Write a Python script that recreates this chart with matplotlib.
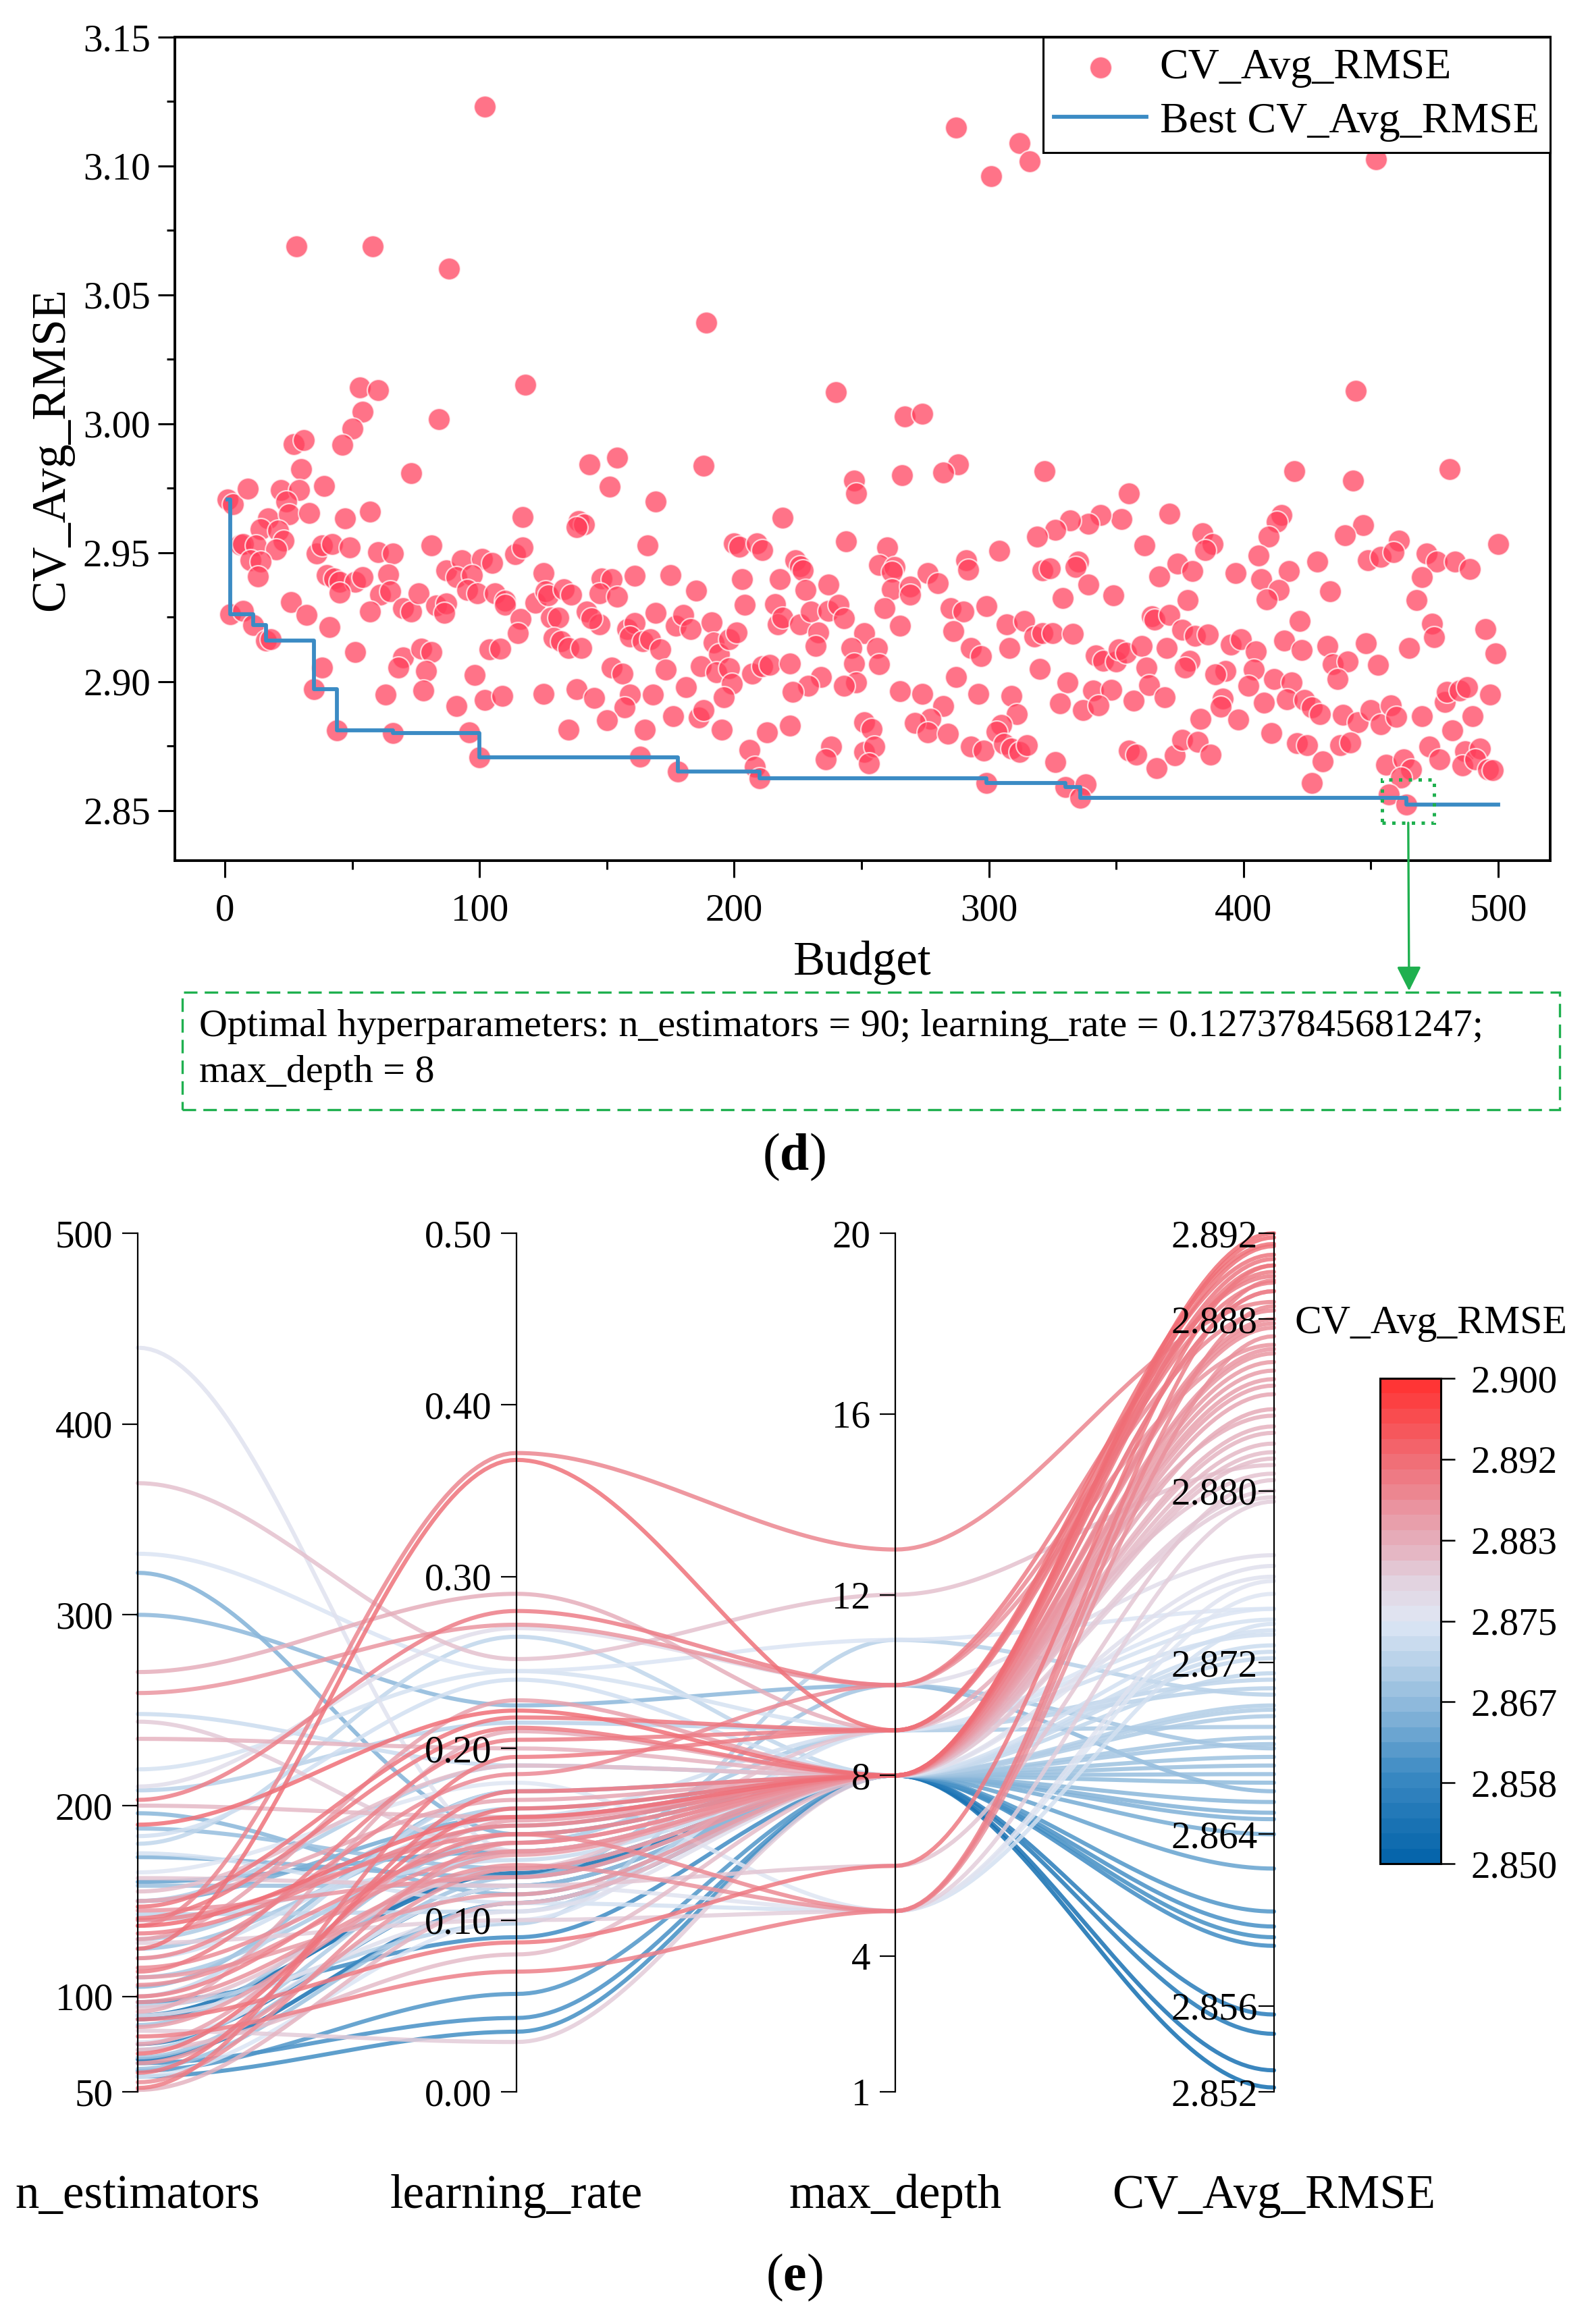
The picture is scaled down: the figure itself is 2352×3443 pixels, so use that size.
import numpy as np
import matplotlib
matplotlib.use('Agg')
import matplotlib.pyplot as plt
from matplotlib.patches import Rectangle
from matplotlib.colors import LinearSegmentedColormap, ListedColormap, Normalize
from matplotlib.cm import ScalarMappable
from matplotlib.ticker import FormatStrFormatter

plt.rcParams['font.family'] = 'Liberation Serif'
plt.rcParams['mathtext.fontset'] = 'custom'
plt.rcParams['mathtext.rm'] = 'Liberation Serif'
plt.rcParams['mathtext.bf'] = 'Liberation Serif:bold'

# ---------------- (d) optimisation history: budget vs CV_Avg_RMSE ----------------
# split in four budget ranges
budget_a = [28, 58, 88, 102, 53, 60, 54, 50, 46, 27, 31, 30, 84, 73, 118,
            1, 3, 9, 22, 29, 39, 24, 17, 25, 33, 47, 57, 117, 14, 21, 6, 7, 12, 23, 20,
            10, 14, 13, 36, 38, 42, 49, 60, 66, 81, 87, 93, 101, 105, 114, 117, 125, 40,
            43, 45, 51, 54, 45, 64, 61, 65, 91, 97, 95, 99, 106, 110, 110, 116, 115, 122,
            126, 26, 32, 41, 57, 70, 73, 76, 83, 87, 86, 2, 7, 11, 16, 18, 51, 70,
            68, 77, 81, 79, 104, 108, 98, 38, 35, 63, 78, 91, 102, 109, 125, 44, 66, 96, 100]
rmse_a = [3.0688, 3.0688, 3.0603, 3.1230, 3.0142, 3.0130, 3.0047, 2.9980, 2.9919, 2.9920,
          2.9937, 2.9825, 3.0018, 2.9808, 3.0152,
          2.9705, 2.9689, 2.9749, 2.9744, 2.9744, 2.9759, 2.9699, 2.9634, 2.9648, 2.9654,
          2.9634, 2.9660, 2.9637, 2.9590, 2.9585, 2.9530, 2.9532, 2.9527, 2.9546, 2.9511,
          2.9470, 2.9466, 2.9408, 2.9497, 2.9527, 2.9532, 2.9519, 2.9501, 2.9497, 2.9527,
          2.9432, 2.9470, 2.9476, 2.9461, 2.9494, 2.9519, 2.9421, 2.9413, 2.9400, 2.9386,
          2.9386, 2.9406, 2.9345, 2.9416, 2.9337, 2.9351, 2.9404, 2.9413, 2.9355, 2.9341,
          2.9341, 2.9314, 2.9297, 2.9243, 2.9187, 2.9306, 2.9350, 2.9307, 2.9258, 2.9210,
          2.9271, 2.9284, 2.9271, 2.9341, 2.9294, 2.9302, 2.9266, 2.9262, 2.9275, 2.9219,
          2.9160, 2.9165, 2.9115, 2.9093, 2.9053, 2.9128, 2.9115, 2.9042, 2.9124, 2.9128,
          2.9026, 2.9055, 2.8971, 2.8950, 2.8964, 2.8906, 2.8927, 2.8945, 2.8951, 2.8810,
          2.8799, 2.8802, 2.8706]

budget_b = [143, 154, 151, 189, 188, 169, 219, 240, 247, 248,
            139, 141, 138, 166, 200, 202, 209, 211, 244, 127, 133, 136, 148, 152, 147,
            154, 161, 175, 185, 203, 218, 224, 226, 227, 228, 237, 204, 216, 128, 131,
            142, 147, 144, 129, 132, 135, 140, 158, 161, 159, 164, 167, 171, 169, 177,
            180, 183, 191, 192, 194, 198, 201, 217, 219, 226, 230, 233, 232, 237, 241,
            243, 251, 246, 247, 248, 243, 152, 156, 173, 187, 193, 198, 199, 207, 211,
            214, 222, 234, 229, 223, 138, 145, 159, 157, 168, 181, 196, 135, 150, 165,
            176, 186, 188, 195, 213, 222, 206, 238, 236, 251, 251, 163, 178, 208, 210]
rmse_b = [2.9843, 2.9869, 2.9756, 3.0393, 2.9837, 2.9698, 2.9636, 3.0123, 2.9780, 2.9730,
          2.9621, 2.9608, 2.9598, 2.9527, 2.9536, 2.9523, 2.9536, 2.9510, 2.9545, 2.9333,
          2.9359, 2.9337, 2.9400, 2.9396, 2.9342, 2.9329, 2.9411, 2.9414, 2.9352, 2.9396,
          2.9396, 2.9470, 2.9448, 2.9430, 2.9355, 2.9377, 2.9297, 2.9299, 2.9249, 2.9249,
          2.9271, 2.9222, 2.9245, 2.9169, 2.9156, 2.9129, 2.9131, 2.9204, 2.9226, 2.9174,
          2.9156, 2.9165, 2.9125, 2.9266, 2.9217, 2.9258, 2.9204, 2.9230, 2.9151, 2.9107,
          2.9165, 2.9191, 2.9222, 2.9249, 2.9222, 2.9271, 2.9191, 2.9138, 2.9275, 2.9297,
          2.9245, 2.9187, 2.9129, 2.9071, 2.8996, 2.8983, 2.9054, 2.9031, 2.9047, 2.9058,
          2.9036, 2.9051, 2.8992, 2.9031, 2.9060, 2.9065, 2.9071, 2.9018, 2.8983, 2.8959,
          2.8970, 2.8935, 2.8948, 2.8899, 2.8948, 2.8977, 2.8939, 2.8814, 2.8850, 2.8814,
          2.8865, 2.8859, 2.8890, 2.8814, 2.8802, 2.8830, 2.8735, 2.8748, 2.8699, 2.8841,
          2.8726, 2.8708, 2.8651, 2.8668, 2.8624]

budget_c = [287, 312, 316, 301, 267, 274, 322, 288, 282, 266, 355,
            371, 352, 344, 339, 332, 326, 319, 304, 361, 260, 257, 263, 262, 276, 280,
            262, 269, 269, 291, 292, 321, 324, 335, 334, 339, 349, 367, 374, 329, 259,
            265, 285, 290, 299, 286, 307, 314, 318, 321, 325, 333, 364, 365, 371, 376,
            256, 257, 293, 297, 308, 320, 342, 345, 350, 351, 354, 360, 370, 362, 287,
            296, 265, 274, 309, 331, 328, 341, 348, 337, 343, 357, 363, 369, 282, 277,
            271, 276, 284, 254, 255, 253, 311, 305, 303, 293, 298, 306, 309, 312, 315,
            326, 355, 358, 366, 373, 299, 330, 338, 336]
rmse_c = [3.1150, 3.1088, 3.1018, 3.0960, 3.0027, 3.0038, 2.9817, 2.9843, 2.9810, 2.9800,
          2.9730, 2.9652, 2.9630, 2.9647, 2.9612, 2.9625, 2.9588, 2.9561, 2.9507, 2.9528,
          2.9519, 2.9452, 2.9443, 2.9426, 2.9421, 2.9381, 2.9359, 2.9368, 2.9337, 2.9470,
          2.9435, 2.9432, 2.9439, 2.9465, 2.9443, 2.9377, 2.9333, 2.9408, 2.9456, 2.9324,
          2.9284, 2.9217, 2.9284, 2.9271, 2.9293, 2.9196, 2.9222, 2.9236, 2.9174, 2.9187,
          2.9187, 2.9184, 2.9253, 2.9239, 2.9257, 2.9200, 2.9129, 2.9067, 2.9129, 2.9098,
          2.9129, 2.9049, 2.9102, 2.9080, 2.9077, 2.9124, 2.9111, 2.9138, 2.9129, 2.9054,
          2.9018, 2.8952, 2.8963, 2.8952, 2.8943, 2.8996, 2.8915, 2.8965, 2.8968, 2.8890,
          2.8907, 2.8925, 2.8987, 2.8938, 2.8906, 2.8855, 2.8838, 2.8802, 2.8797, 2.8815,
          2.8748, 2.8682, 2.8874, 2.8832, 2.8806, 2.8748, 2.8731, 2.8757, 2.8739, 2.8726,
          2.8753, 2.8688, 2.8731, 2.8717, 2.8664, 2.8713, 2.8606, 2.8590, 2.8602, 2.8549]

budget_d = [452, 444, 481, 420, 443,
            415, 413, 410, 384, 388, 385, 406, 447, 440, 461, 500, 380, 397, 407, 418,
            429, 449, 454, 459, 472, 476, 483, 489, 470, 414, 409, 434, 378, 468, 381,
            386, 395, 399, 405, 422, 416, 423, 433, 448, 465, 474, 475, 495, 499, 379,
            377, 393, 389, 404, 402, 412, 419, 435, 441, 437, 453, 392, 391, 383, 398,
            408, 417, 424, 427, 430, 439, 445, 450, 454, 458, 460, 470, 479, 480, 485,
            488, 497, 490, 482, 411, 376, 382, 387, 421, 425, 431, 438, 442, 427, 473,
            477, 487, 493, 486, 491, 496, 498, 456, 463, 466, 462, 457, 464]
rmse_d = [3.1025, 3.0127, 2.9825, 2.9817, 2.9780,
          2.9647, 2.9620, 2.9562, 2.9575, 2.9534, 2.9510, 2.9490, 2.9607, 2.9567, 2.9547,
          2.9532, 2.9428, 2.9421, 2.9396, 2.9428, 2.9466, 2.9470, 2.9483, 2.9501, 2.9497,
          2.9466, 2.9466, 2.9437, 2.9405, 2.9355, 2.9319, 2.9350, 2.9315, 2.9317, 2.9176,
          2.9182, 2.9143, 2.9165, 2.9116, 2.9234, 2.9160, 2.9122, 2.9138, 2.9149, 2.9129,
          2.9225, 2.9172, 2.9202, 2.9110, 2.9080, 2.9054, 2.9041, 2.9027, 2.9047, 2.8983,
          2.9009, 2.8996, 2.9067, 2.9078, 2.9009, 2.9065, 2.8934, 2.8903, 2.8854, 2.8852,
          2.8918, 2.8930, 2.8928, 2.8899, 2.8872, 2.8870, 2.8841, 2.8888, 2.8835, 2.8908,
          2.8863, 2.8865, 2.8921, 2.8961, 2.8965, 2.8978, 2.8948, 2.8865, 2.8810, 2.8801,
          2.8775, 2.8766, 2.8717, 2.8761, 2.8752, 2.8690, 2.8752, 2.8764, 2.8606, 2.8748,
          2.8697, 2.8729, 2.8739, 2.8673, 2.8699, 2.8659, 2.8655, 2.8677, 2.8699, 2.8659,
          2.8626, 2.8562, 2.8522]

best_budget = 464
best_rmse = 2.8522
optimum_text = ["Optimal hyperparameters: n_estimators = 90; learning_rate = 0.12737845681247;",
                "max_depth = 8"]

# ---------------- (e) parallel coordinates of the best trials ----------------
pc_n_estimators = [137, 125, 203, 259, 190, 147, 141, 113, 137, 133, 140, 115, 106, 97, 88,
                   79, 70, 60, 52, 145, 110, 120, 130, 100, 84, 75, 150, 92, 65, 55,
                   369, 270, 235, 200, 244, 162, 82, 94, 51, 155, 128, 72,
                   440, 332, 210, 219, 184, 248, 165, 90, 120, 140, 76, 100, 58, 175,
                   300, 180, 208, 150, 130, 110, 85, 68, 62, 158, 95, 188, 105, 143, 72, 125,
                   322, 196, 173, 160, 61, 65, 58, 97, 88, 75, 90, 67, 150]
pc_learning_rate = [0.372, 0.368, 0.280, 0.272, 0.222, 0.218, 0.212, 0.205, 0.160, 0.155,
                    0.150, 0.145, 0.140, 0.132, 0.087, 0.070, 0.165, 0.175, 0.195, 0.125,
                    0.115, 0.185, 0.228, 0.150, 0.138, 0.158, 0.170, 0.210, 0.130, 0.145,
                    0.252, 0.290, 0.200, 0.160, 0.140, 0.120, 0.029, 0.130, 0.110, 0.190,
                    0.100, 0.080,
                    0.140, 0.245, 0.270, 0.245, 0.240, 0.190, 0.180, 0.105, 0.160, 0.135,
                    0.120, 0.175, 0.100, 0.110,
                    0.225, 0.265, 0.215, 0.190, 0.165, 0.145, 0.150, 0.125, 0.110, 0.120,
                    0.098, 0.130, 0.175, 0.105, 0.140, 0.155,
                    0.150, 0.115, 0.125, 0.140, 0.057, 0.043, 0.035, 0.090, 0.130, 0.120,
                    0.1274, 0.110, 0.160]
pc_max_depth = [13, 9, 10, 10, 8, 9, 8, 9, 8, 8, 5, 8, 8, 5, 6, 5, 8, 8, 9, 8, 8, 10, 8, 8,
                8, 8, 8, 8, 8, 8,
                12, 9, 8, 8, 8, 6, 8, 9, 8, 8, 5, 8,
                8, 11, 10, 9, 8, 8, 5, 8, 9, 8, 5, 8, 9, 5,
                10, 8, 9, 8, 8, 9, 8, 10, 8, 8, 11, 8, 8, 9, 8, 8,
                8, 8, 8, 8, 8, 8, 8, 8, 8, 8, 8, 8, 8]
pc_cv_rmse = [2.8888, 2.8915, 2.8900, 2.8868, 2.8918, 2.8910, 2.8905, 2.8897, 2.8920, 2.8893,
              2.8886, 2.8880, 2.8876, 2.8872, 2.8905, 2.8898, 2.8914, 2.8908, 2.8902, 2.8866,
              2.8860, 2.8884, 2.8852, 2.8893, 2.8856, 2.8849, 2.8845, 2.8838, 2.8864, 2.8878,
              2.8812, 2.8835, 2.8830, 2.8822, 2.8800, 2.8805, 2.8797, 2.8808, 2.8827, 2.8815,
              2.8795, 2.8818,
              2.8760, 2.8745, 2.8770, 2.8740, 2.8735, 2.8728, 2.8752, 2.8765, 2.8733, 2.8725,
              2.8758, 2.8722, 2.8745, 2.8738,
              2.8660, 2.8715, 2.8708, 2.8700, 2.8695, 2.8690, 2.8685, 2.8680, 2.8676, 2.8672,
              2.8705, 2.8668, 2.8664, 2.8712, 2.8698, 2.8682,
              2.8650, 2.8655, 2.8647, 2.8624, 2.8604, 2.8597, 2.8592, 2.8588, 2.8556, 2.8547,
              2.8522, 2.8530, 2.8640]
pc_names = ['n_estimators', 'learning_rate', 'max_depth', 'CV_Avg_RMSE']
pc_limits = [(50, 500), (0.0, 0.5), (1, 20), (2.852, 2.892)]
pc_ticks = [[50, 100, 200, 300, 400, 500],
            [0.0, 0.1, 0.2, 0.3, 0.4, 0.5],
            [1, 4, 8, 12, 16, 20],
            [2.852, 2.856, 2.864, 2.872, 2.880, 2.888, 2.892]]
pc_formats = ['%d', '%.2f', '%d', '%.3f']
cbar_range = (2.850, 2.900)

# ---------------- figure ----------------
W, H = 2352, 3443
fig = plt.figure(figsize=(W / 100, H / 100), dpi=100)

def fx(px):
    return px / W

def fy(py):
    return 1 - py / H

red = '#ff3d5a'
blue_line = '#3b8bc4'
green = '#1fb04f'

budget = np.array(budget_a + budget_b + budget_c + budget_d, dtype=float)
rmse = np.array(rmse_a + rmse_b + rmse_c + rmse_d)
order = np.argsort(budget, kind='stable')
xb = budget[order]
yb = np.minimum.accumulate(rmse[order])

ax = fig.add_axes([fx(259), fy(1275), fx(2296) - fx(259), fy(55) - fy(1275)])
ax.scatter(budget, rmse, s=560, c=red, alpha=0.72, edgecolors='white', linewidths=1.6,
           label='CV_Avg_RMSE', zorder=2)
ax.plot(xb, yb, drawstyle='steps-post', color=blue_line, lw=4.2,
        label='Best CV_Avg_RMSE', zorder=3)

ax.set_xlim(-19.7, 520.5)
ax.set_ylim(2.8305, 3.15)
ax.set_xticks(np.arange(0, 501, 100))
ax.set_xticks(np.arange(50, 501, 100), minor=True)
ax.set_yticks(np.arange(2.85, 3.151, 0.05))
ax.set_yticks(np.arange(2.875, 3.14, 0.05), minor=True)
ax.yaxis.set_major_formatter(FormatStrFormatter('%.2f'))
ax.tick_params(which='major', direction='out', length=18, width=2.2, labelsize=41, pad=8)
ax.tick_params(axis='x', which='major', pad=17)
ax.tick_params(which='minor', direction='out', length=9, width=2.2)
for sp in ax.spines.values():
    sp.set_linewidth(2.8)
ax.set_xlabel('Budget', fontsize=51, labelpad=13)
ax.set_ylabel('CV_Avg_RMSE', fontsize=51, labelpad=10)

leg = ax.legend(loc='upper right', fontsize=46, frameon=True, fancybox=False,
                edgecolor='black', framealpha=1, borderaxespad=0, borderpad=0.26,
                handlelength=2.15, handletextpad=0.3, labelspacing=0.32)
leg.get_frame().set_linewidth(2.2)

# optimum marker box and arrow to the text box
box_w, box_h = 20.5, 0.0166
ax.add_patch(Rectangle((best_budget - 9.5, best_rmse - 0.007), box_w, box_h, fill=False,
                       edgecolor=green, lw=3.6, linestyle=(0, (1, 1.9)), zorder=4))
ax.annotate('', xy=(fx(2087), fy(1468)), xycoords='figure fraction',
            xytext=(best_budget + 0.75, best_rmse - 0.007), textcoords='data',
            arrowprops=dict(arrowstyle='-|>', color=green, lw=2.4, mutation_scale=55,
                            shrinkA=0, shrinkB=0),
            annotation_clip=False)

fig.add_artist(Rectangle((fx(270), fy(1644)), fx(2310) - fx(270), fy(1470) - fy(1644),
                         transform=fig.transFigure, fill=False, edgecolor=green, lw=2.4,
                         linestyle=(0, (6, 3.2))))
fig.text(fx(295), fy(1521), optimum_text[0], fontsize=41.8, va='center', ha='left')
fig.text(fx(295), fy(1589), optimum_text[1], fontsize=41.8, va='center', ha='left')
fig.text(0.5, fy(1714), r'($\mathbf{d}$)', fontsize=56, ha='center', va='center')

# ---------------- (e) ----------------
cmap = LinearSegmentedColormap.from_list('rmse', [
    (0.00, '#0665ab'), (0.17, '#3a89c2'), (0.33, '#93bcdd'), (0.50, '#dfe8f5'),
    (0.58, '#e2d3e0'), (0.67, '#e6aebb'), (0.83, '#ef727b'), (1.00, '#ff3535')])
cnorm = Normalize(*cbar_range)

ax_x = [204, 765, 1326, 1887]
top_px, bot_px = 1827, 3099
ax_pc = fig.add_axes([fx(ax_x[0]), fy(bot_px), fx(ax_x[-1]) - fx(ax_x[0]), fy(top_px) - fy(bot_px)])
ax_pc.set_xlim(0, 3)
ax_pc.set_ylim(0, 1)
ax_pc.axis('off')

cols = [pc_n_estimators, pc_learning_rate, pc_max_depth, pc_cv_rmse]
scaled = np.column_stack([(np.asarray(c, dtype=float) - lo) / (hi - lo)
                          for c, (lo, hi) in zip(cols, pc_limits)])
cv_arr = np.asarray(pc_cv_rmse)
t = np.linspace(0, 1, 60)
s = 3 * t ** 2 - 2 * t ** 3
for k in np.argsort(cv_arr):
    xs = np.concatenate([i + t for i in range(3)])
    ys = np.concatenate([scaled[k, i] + (scaled[k, i + 1] - scaled[k, i]) * s for i in range(3)])
    ax_pc.plot(xs, ys, color=cmap(cnorm(cv_arr[k])), lw=4.4, alpha=0.85,
               solid_capstyle='round', clip_on=False)

for i, xpx in enumerate(ax_x):
    a = fig.add_axes([fx(xpx), fy(bot_px), 0.0001, fy(top_px) - fy(bot_px)])
    a.patch.set_visible(False)
    for side in ['top', 'right', 'bottom']:
        a.spines[side].set_visible(False)
    a.spines['left'].set_linewidth(1.6)
    a.set_ylim(*pc_limits[i])
    a.set_yticks(pc_ticks[i])
    a.yaxis.set_major_formatter(FormatStrFormatter(pc_formats[i]))
    a.set_xticks([])
    a.tick_params(axis='y', direction='out', length=16.5, width=1.6, labelsize=41,
                  pad=1 if i == 3 else 10)
    fig.text(fx(xpx), fy(3253), pc_names[i], fontsize=51, ha='center', va='center')

cax = fig.add_axes([fx(2044), fy(2761), fx(2134) - fx(2044), fy(2042) - fy(2761)])
cmap_steps = ListedColormap(cmap(np.linspace(0, 1, 32)))
cb_ticks = np.linspace(cbar_range[0], cbar_range[1], 7)
cb = fig.colorbar(ScalarMappable(norm=cnorm, cmap=cmap_steps), cax=cax, ticks=cb_ticks)
cb.ax.yaxis.set_major_formatter(FormatStrFormatter('%.3f'))
cb.outline.set_linewidth(2.2)
cax.tick_params(direction='out', length=15, width=1.8, labelsize=41, pad=17)
fig.text(fx(1917), fy(1961), 'CV_Avg_RMSE', fontsize=43, ha='left', va='center')

fig.text(0.5, fy(3374), r'($\mathbf{e}$)', fontsize=56, ha='center', va='center')

fig.savefig('out.png', dpi=100)
